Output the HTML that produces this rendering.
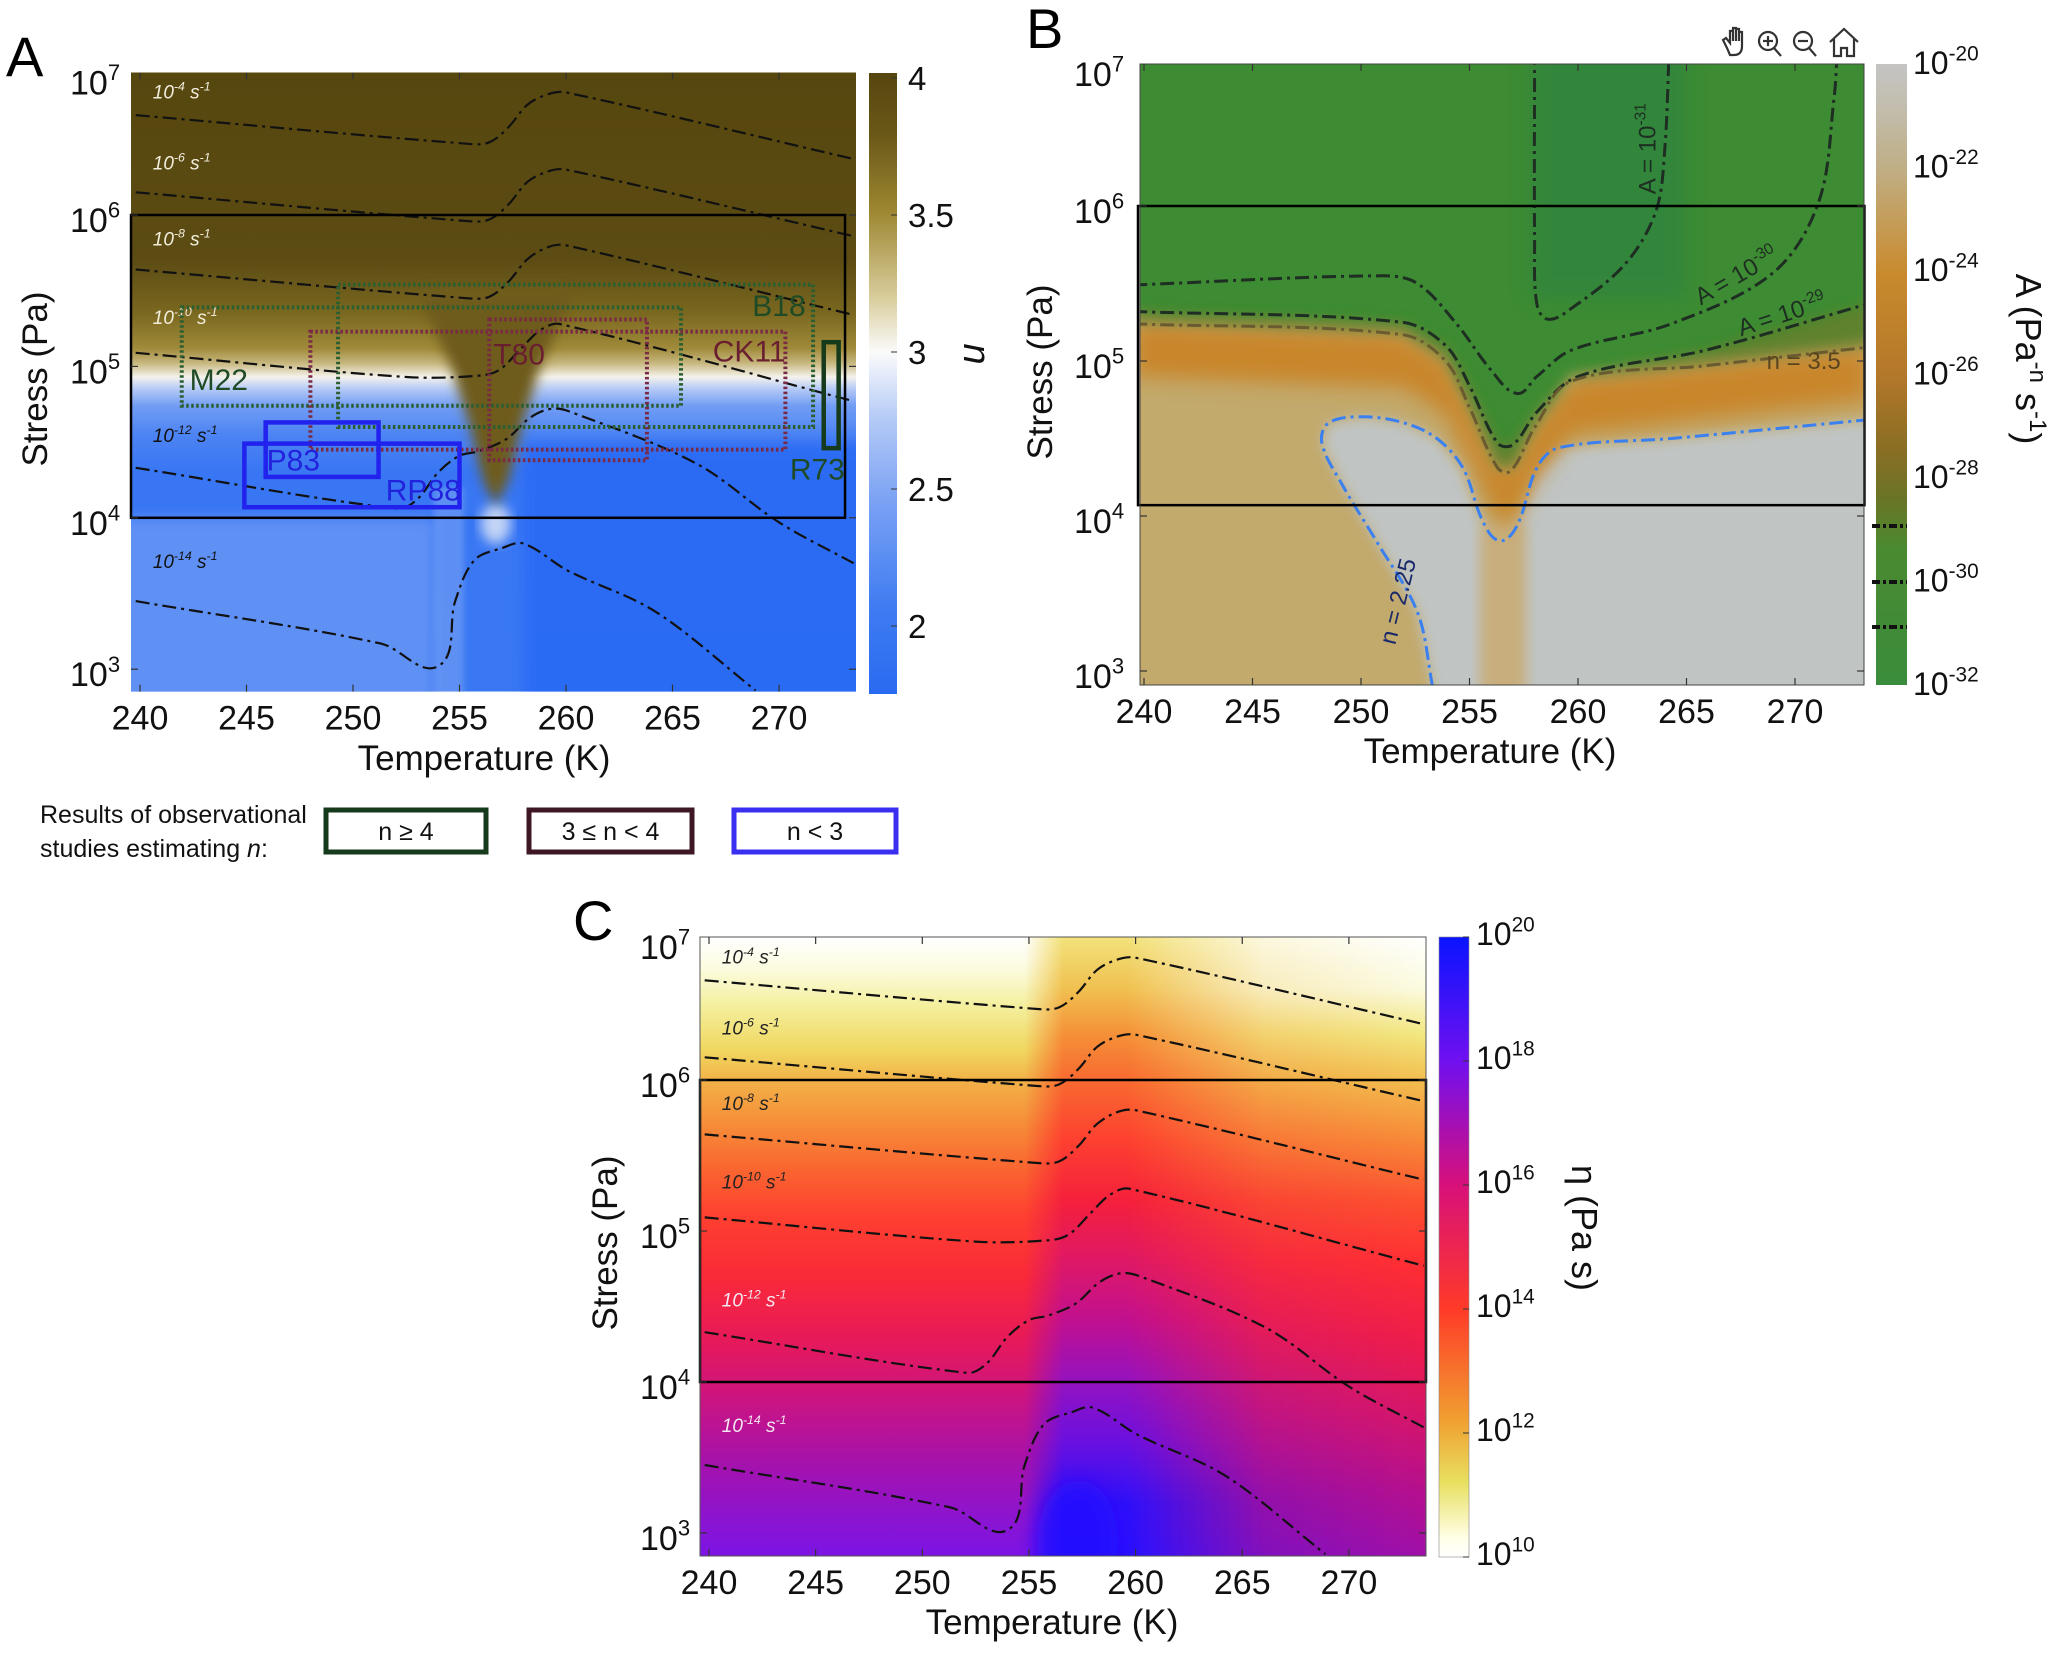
<!DOCTYPE html>
<html><head><meta charset="utf-8"><style>
html,body{margin:0;padding:0;background:#fff;}
svg{display:block;font-family:"Liberation Sans Narrow","Liberation Sans",sans-serif;}
</style></head><body>
<svg id="fig" xmlns="http://www.w3.org/2000/svg" width="2048" height="1655" viewBox="0 0 2048 1655">
<defs id="defs">
<filter id="b3" x="-20%" y="-20%" width="140%" height="140%"><feGaussianBlur stdDeviation="3"/></filter>
<filter id="b6" x="-20%" y="-20%" width="140%" height="140%"><feGaussianBlur stdDeviation="6"/></filter>
<filter id="b10" x="-30%" y="-30%" width="160%" height="160%"><feGaussianBlur stdDeviation="10"/></filter>
</defs>
</svg>
<script>
// ---------- data ----------
const rateLabels=['-4','-6','-8','-10','-12','-14'];
const r4T=[239.8,255.4,256.4,257.3,258.2,259.2,260.0,273.5];
const r4S=[6.66,6.47,6.48,6.58,6.73,6.80,6.81,6.37];
const r6T=[239.8,255.4,256.4,257.3,258.2,259.2,260.0,273.5];
const r6S=[6.15,5.96,5.97,6.07,6.22,6.29,6.30,5.86];
const r8T=[239.8,255.4,256.4,257.3,258.2,259.2,260.0,273.5];
const r8S=[5.64,5.45,5.46,5.56,5.71,5.79,5.80,5.34];
const r10T=[239.8,252.5,256.0,256.9,257.9,258.8,259.7,273.5];
const r10S=[5.09,4.93,4.94,4.98,5.12,5.24,5.28,4.77];
const r12T=[239.8,252.1,253.0,254.0,255.0,255.9,257.2,258.3,259.3,260.2,266.1,270.0,273.5];
const r12S=[4.33,4.06,4.12,4.30,4.41,4.44,4.52,4.66,4.72,4.70,4.36,3.97,3.70];
const r14T=[239.8,251.3,254.0,254.8,255.7,257.0,258.0,260.1,264.2,268.9];
const r14S=[3.45,3.17,3.02,3.45,3.72,3.80,3.83,3.65,3.38,2.86];
const rateLabelS=[6.77,6.30,5.80,5.28,4.50,3.67];

const obsNames=['M22','B18','T80','CK11','R73','P83','RP88'];
const obsT0=[241.96,249.3,256.4,248.0,272.1,245.9,244.9];
const obsT1=[265.4,271.6,263.8,270.3,272.8,251.2,255.0];
const obsS0=[4.74,4.60,4.38,4.45,4.46,4.27,4.07];
const obsS1=[5.39,5.54,5.31,5.23,5.16,4.63,4.49];
const obsKind=['g','g','m','m','G','b','b'];
const obsLabT=[243.7,270.0,257.8,268.6,271.8,247.2,253.3];
const obsLabS=[4.91,5.40,5.08,5.10,4.32,4.38,4.18];

const c31T=[258.0,258.0,258.1,258.6,259.7,262.2,263.6,264.0,264.2];
const c31S=[7.0,5.8,5.37,5.27,5.34,5.63,5.97,6.37,7.0];
const c30T=[239.5,251,252.6,254.4,256.0,257.2,258.1,259.7,264.3,269,271.1,271.8,271.95];
const c30S=[5.49,5.55,5.50,5.24,4.94,4.79,4.90,5.07,5.24,5.57,6.03,6.70,7.0];
const c29T=[239.5,251.9,253.9,255,256.3,257,258.1,260,265.9,273.4];
const c29S=[5.32,5.25,5.10,4.84,4.47,4.46,4.67,4.90,5.07,5.37];
const n35T=[239.5,251.9,253.9,255,256.3,256.9,258,259.7,265.9,273.4];
const n35S=[5.24,5.17,5.00,4.70,4.31,4.29,4.57,4.87,4.97,5.09];
const n225T=[253.3,252.6,250.7,249.1,248.2,248.5,250.1,252,253.5,254.7,255.6,256.4,257.2,258.1,259.1,264.3,273.3];
const n225S=[2.9,3.38,3.84,4.21,4.47,4.60,4.64,4.60,4.50,4.31,3.97,3.84,3.94,4.31,4.44,4.50,4.62];

const xTicks=[240,245,250,255,260,265,270];
const yTicks=[7,6,5,4,3];
const cbATicks=[4,3.5,3,2.5,2];
const cbBTicks=[-20,-22,-24,-26,-28,-30,-32];
const cbCTicks=[20,18,16,14,12,10];

// ---------- helpers ----------
const NS='http://www.w3.org/2000/svg';
const svg=document.getElementById('fig');
const defs=document.getElementById('defs');
function el(tag,attrs,parent){const e=document.createElementNS(NS,tag);for(const k in attrs)e.setAttribute(k,attrs[k]);(parent||svg).appendChild(e);return e;}
const PA={x0:140,t0:240,kx:21.3,y6:215,dy:151.4,left:131,right:856,top:72.5,bottom:691.6};
const PB={x0:1144,t0:240,kx:21.7,y6:206,dy:155,left:1140,right:1864,top:64,bottom:685};
const PC={x0:709,t0:240,kx:21.33,y6:1080,dy:151,left:700,right:1426,top:937,bottom:1556};
function X(p,T){return p.x0+(T-p.t0)*p.kx;}
function Y(p,l){return p.y6+(6-l)*p.dy;}
function pts(p,Ts,Ss){return Ts.map((t,i)=>[X(p,t),Y(p,Ss[i])]);}
function dist(a,b){return Math.hypot(b[0]-a[0],b[1]-a[1]);}
function tang(P,i){const a=P[i-1]||P[i],b=P[i+1]||P[i];const d=dist(a,b)||1;return [(b[0]-a[0])/d,(b[1]-a[1])/d];}
function smooth(P){let d='M'+P[0][0].toFixed(1)+','+P[0][1].toFixed(1);
 for(let i=0;i<P.length-1;i++){const p1=P[i],p2=P[i+1],L=dist(p1,p2)/3,t1=tang(P,i),t2=tang(P,i+1);
  const c1=[p1[0]+t1[0]*L,p1[1]+t1[1]*L],c2=[p2[0]-t2[0]*L,p2[1]-t2[1]*L];
  d+=' C'+c1[0].toFixed(1)+','+c1[1].toFixed(1)+' '+c2[0].toFixed(1)+','+c2[1].toFixed(1)+' '+p2[0].toFixed(1)+','+p2[1].toFixed(1);}
 return d;}
function poly(P){return 'M'+P.map(q=>q[0].toFixed(1)+','+q[1].toFixed(1)).join(' L')+' Z';}
function vgrad(id,p,stops){const g=el('linearGradient',{id:id,gradientUnits:'userSpaceOnUse',x1:0,y1:p.top,x2:0,y2:p.bottom},defs);
 stops.forEach(s=>{let o=(Y(p,s[0])-p.top)/(p.bottom-p.top);o=Math.max(0,Math.min(1,o));el('stop',{offset:o.toFixed(4),'stop-color':s[1]},g);});}
function hmask(id,p,stops){const g=el('linearGradient',{id:id+'g',gradientUnits:'userSpaceOnUse',x1:p.left,y1:0,x2:p.right,y2:0},defs);
 stops.forEach(s=>{let o=(X(p,s[0])-p.left)/(p.right-p.left);o=Math.max(0,Math.min(1,o));el('stop',{offset:o.toFixed(4),'stop-color':'#fff','stop-opacity':s[1]},g);});
 const m=el('mask',{id:id,maskUnits:'userSpaceOnUse',x:0,y:0,width:2048,height:1655},defs);
 el('rect',{x:p.left,y:p.top,width:p.right-p.left,height:p.bottom-p.top,fill:'url(#'+id+'g)'},m);}
function clip(id,p){const c=el('clipPath',{id:id},defs);el('rect',{x:p.left,y:p.top,width:p.right-p.left,height:p.bottom-p.top},c);}
function cbgrad(id,y1,y2,stops){const g=el('linearGradient',{id:id,gradientUnits:'userSpaceOnUse',x1:0,y1:y1,x2:0,y2:y2},defs);
 stops.forEach(s=>el('stop',{offset:s[0],'stop-color':s[1]},g));}
function supLabel(parent,x,y,base,sup,size,anchor,fill,rest,restSup,italic){
 const t=el('text',{x:x,y:y,'font-size':size,'text-anchor':anchor||'start',fill:fill||'#000'},parent);
 if(italic)t.setAttribute('font-style','italic');
 t.appendChild(document.createTextNode(base));
 const s=el('tspan',{dy:-size*0.42,'font-size':size*0.65},t);s.textContent=sup;
 if(rest){const r=el('tspan',{dy:size*0.42},t);r.textContent=rest;
  if(restSup){const s2=el('tspan',{dy:-size*0.42,'font-size':size*0.65},t);s2.textContent=restSup;}}
 return t;}
const DASH='14 5 3 5';
clip('clipA',PA);clip('clipB',PB);clip('clipC',PC);

// ================= PANEL A =================
vgrad('gA',PA,[[6.94,'#56470f'],[5.7,'#5c4c14'],[5.35,'#7a6820'],[5.12,'#a08a3a'],[5.02,'#c8b880'],[4.93,'#f4f2ec'],[4.85,'#b4c9f6'],[4.74,'#729df4'],[4.55,'#4d84f3'],[4.3,'#3876f3'],[3.0,'#3a78f3']]);
const gAp=el('g',{'clip-path':'url(#clipA)'});


el('rect',{x:PA.left,y:PA.top,width:PA.right-PA.left,height:PA.bottom-PA.top,fill:'url(#gA)'},gAp);
el('path',{d:poly(pts(PA,[238,253.8,253.8,238],[4.0,4.0,2.5,2.5])),fill:'#5e90f4',filter:'url(#b6)'},gAp);
el('path',{d:poly(pts(PA,[253.8,255.2,255.2,253.8],[4.2,4.2,2.5,2.5])),fill:'#82a8f4',opacity:0.5,filter:'url(#b3)'},gAp);
el('path',{d:poly(pts(PA,[258,275,275,258],[4.5,4.5,2.5,2.5])),fill:'#2a6af4',opacity:0.9,filter:'url(#b6)'},gAp);
el('ellipse',{cx:X(PA,256.7),cy:Y(PA,3.96),rx:15,ry:20,fill:'#e6ecf6',opacity:0.8,filter:'url(#b6)'},gAp);
const wedge=el('path',{d:poly(pts(PA,[253.0,254.6,255.5,256.1,256.7,257.3,257.9,258.8,260.4],[5.5,5.0,4.6,4.25,4.08,4.25,4.6,5.0,5.5])),fill:'#6e5c1a',filter:'url(#b6)'},gAp);


// contours A
const rateTs=[r4T,r6T,r8T,r10T,r12T,r14T], rateSs=[r4S,r6S,r8S,r10S,r12S,r14S];
function rateLines(p,g,labColors,lx){
 rateTs.forEach((Ts,i)=>{const ln=el('path',{d:smooth(pts(p,Ts,rateSs[i])),fill:'none',stroke:'#111','stroke-width':2.2,'stroke-dasharray':DASH},g);
  
  
  const lb=supLabel(g,X(p,lx),Y(p,rateLabelS[i]),'10',rateLabels[i],19,'start',labColors[i],' s','-1',true);
  
  });}
rateLines(PA,gAp,['#f2eedc','#f2eedc','#f2eedc','#f2eedc','#111','#111'],240.6);
// observation boxes
const obsStroke={g:'#2b5e30',m:'#7a2a44',G:'#163a1c',b:'#2222ee'};
const obsText={g:'#1f4a26',m:'#6a1f30',G:'#1f4a26',b:'#2222dd'};
obsNames.forEach((n,i)=>{const k=obsKind[i];
 const r=el('rect',{x:X(PA,obsT0[i]),y:Y(PA,obsS1[i]),width:X(PA,obsT1[i])-X(PA,obsT0[i]),height:Y(PA,obsS0[i])-Y(PA,obsS1[i]),fill:'none',stroke:obsStroke[k],'stroke-width':(k==='g'||k==='m')?4:4.5,'stroke-dasharray':(k==='g'||k==='m')?'2.5 2.5':'none'});
 
 
 const t=el('text',{x:X(PA,obsLabT[i]),y:Y(PA,obsLabS[i])+10,'font-size':30,'text-anchor':'middle',fill:obsText[k]});t.textContent=n;
 
 });
const rA=el('rect',{x:PA.left,y:Y(PA,6),width:X(PA,273.1)-PA.left,height:Y(PA,4)-Y(PA,6),fill:'none',stroke:'#000','stroke-width':2.5});



// ================= PANEL B =================
const gBp=el('g',{'clip-path':'url(#clipB)'});


el('rect',{x:PB.left,y:PB.top,width:PB.right-PB.left,height:PB.bottom-PB.top,fill:'#c2a96c'},gBp);
const greyPts=pts(PB,n225T,n225S).concat(pts(PB,[274.5,274.5,253.3],[4.62,2.5,2.5]));
el('path',{d:poly(greyPts),fill:'#c0c4c2',filter:'url(#b6)'},gBp);
el('path',{d:poly(pts(PB,[255.5,257.6,257.6,255.5],[3.95,3.95,2.5,2.5])),fill:'#c8ae7c',filter:'url(#b6)'},gBp);
const bandTop=pts(PB,n35T,n35S), bandBot=pts(PB,n35T,n35S.map(s=>s-0.34)).reverse();
el('path',{d:poly(bandTop.concat(bandBot)),fill:'#c9862c',filter:'url(#b10)'},gBp);
const greenPts=pts(PB,[274.5,238],[7.2,7.2]).concat(pts(PB,n35T,n35S.map(s=>s+0.04)));
el('path',{d:poly(greenPts),fill:'#3c8b32',filter:'url(#b6)'},gBp);
el('path',{d:poly(pts(PB,n35T,n35S).concat(pts(PB,c29T,c29S).reverse())),fill:'#7a7a2c',opacity:0.55,filter:'url(#b6)'},gBp);
el('path',{d:poly(pts(PB,[257.8,265,265,257.8],[7.2,7.2,5.4,5.4])),fill:'#2c8245',opacity:0.55,filter:'url(#b10)'},gBp);
function bLine(Ts,Ss,color,name){const l=el('path',{d:smooth(pts(PB,Ts,Ss)),fill:'none',stroke:color,'stroke-width':3,'stroke-dasharray':DASH},gBp);
 
 }
bLine(c31T,c31S,'#1e2e22','contour-a-1e-31');
bLine(c30T,c30S,'#1e2e22','contour-a-1e-30');
bLine(c29T,c29S,'#1e2e22','contour-a-1e-29');
bLine(n35T,n35S,'#6a5a30','contour-n-3-5');
bLine(n225T,n225S,'#3a80f0','contour-n-2-25');
function rotLabel(T,S,ang,base,sup,color,name){const g=el('g',{transform:'translate('+X(PB,T)+','+Y(PB,S)+') rotate('+ang+')'},gBp);
 const t=supLabel(g,0,8,base,sup,24,'middle',color);
 
 }
rotLabel(263.2,6.37,-90,'A = 10','-31','#1e2e22','label-a-1e-31');
rotLabel(267.3,5.55,-30,'A = 10','-30','#1e2e22','label-a-1e-30');
rotLabel(269.4,5.30,-18,'A = 10','-29','#1e2e22','label-a-1e-29');
rotLabel(270.4,5.0,0,'n = 3.5','','#5a4520','label-n-3-5');
rotLabel(251.7,3.45,-76,'n = 2.25','','#1a2a6a','label-n-2-25');
const rB=el('rect',{x:PB.left-2,y:Y(PB,6),width:X(PB,273.2)-PB.left+2,height:Y(PB,4.07)-Y(PB,6),fill:'none',stroke:'#000','stroke-width':2.5});


el('rect',{x:PB.left,y:PB.top,width:PB.right-PB.left,height:PB.bottom-PB.top,fill:'none',stroke:'#444','stroke-width':1});

// ================= PANEL C =================
vgrad('gC1',PC,[[6.94,'#ffffff'],[6.75,'#fcfce2'],[6.5,'#f4f0a0'],[6.2,'#f0d860'],[6.0,'#f2b248'],[5.7,'#f68c38'],[5.4,'#fa6430'],[5.1,'#fe4030'],[4.7,'#fa2a38'],[4.3,'#e81a58'],[3.9,'#cc1480'],[3.5,'#a812a8'],[3.1,'#8c14d0'],[2.85,'#7c14e4']]);
vgrad('gC2',PC,[[6.94,'#f2e27a'],[6.6,'#f0c050'],[6.3,'#f59038'],[6.0,'#f86a30'],[5.6,'#fd4030'],[5.2,'#f5203c'],[4.8,'#de1866'],[4.4,'#c01090'],[4.0,'#9412c0'],[3.6,'#6a10e0'],[3.2,'#3010f8'],[2.85,'#2a10ff']]);
vgrad('gC3',PC,[[6.94,'#ffffff'],[6.6,'#fbfbe0'],[6.3,'#f2e880'],[6.0,'#f2c050'],[5.6,'#f78a38'],[5.2,'#fc5230'],[4.8,'#ff3032'],[4.3,'#f01e48'],[3.8,'#d81668'],[3.3,'#b8108c'],[2.85,'#a010a8']]);
hmask('mC3',PC,[[258,0],[262,1],[274,1]]);
hmask('mC2',PC,[[254.8,0],[256.6,1],[259.6,1],[266,0.25],[274,0]]);
const gCp=el('g',{'clip-path':'url(#clipC)'});


el('rect',{x:PC.left,y:PC.top,width:PC.right-PC.left,height:PC.bottom-PC.top,fill:'url(#gC1)'},gCp);
el('rect',{x:PC.left,y:PC.top,width:PC.right-PC.left,height:PC.bottom-PC.top,fill:'url(#gC3)',mask:'url(#mC3)'},gCp);
el('rect',{x:PC.left,y:PC.top,width:PC.right-PC.left,height:PC.bottom-PC.top,fill:'url(#gC2)',mask:'url(#mC2)'},gCp);
el('ellipse',{cx:X(PC,257.3),cy:Y(PC,2.95),rx:40,ry:60,fill:'#2010ff',opacity:0.8,filter:'url(#b10)'},gCp);
rateLines(PC,gCp,['#222','#222','#222','#222','#f4e8f0','#f4e8f0'],240.6);
const rC=el('rect',{x:PC.left,y:Y(PC,6),width:PC.right-PC.left,height:Y(PC,4)-Y(PC,6),fill:'none',stroke:'#000','stroke-width':2.5});


el('rect',{x:PC.left,y:PC.top,width:PC.right-PC.left,height:PC.bottom-PC.top,fill:'none',stroke:'#555','stroke-width':1});

// ================= AXES =================
function axes(p,tag,ylabX,labX,labY,stX,stY){
 xTicks.forEach(t=>{const x=X(p,t);
  el('line',{x1:x,y1:p.bottom,x2:x,y2:p.bottom-7,stroke:'#333','stroke-width':1.2});
  el('line',{x1:x,y1:p.top,x2:x,y2:p.top+7,stroke:'#333','stroke-width':1.2});
  const tl=el('text',{x:x,y:p.bottom+38,'font-size':34,'text-anchor':'middle',fill:'#111'});tl.textContent=t;
  
  });
 yTicks.forEach(l=>{let y=Y(p,l);
  if(y>=p.top-1&&y<=p.bottom){el('line',{x1:p.left,y1:y,x2:p.left+7,y2:y,stroke:'#333','stroke-width':1.2});
   el('line',{x1:p.right,y1:y,x2:p.right-7,y2:y,stroke:'#333','stroke-width':1.2});}
  let ly=(l===7)?p.top+22:y+17;
  const tl=supLabel(svg,ylabX,ly,'10',String(l),34,'start','#111');
  
  });
 const xt=el('text',{x:labX,y:labY,'font-size':35,'text-anchor':'middle',fill:'#111'});xt.textContent='Temperature (K)';
 
 
 const yt=el('text',{x:0,y:0,'font-size':35,'text-anchor':'middle',fill:'#111',transform:'translate('+stX+','+stY+') rotate(-90)'});yt.textContent='Stress (Pa)';
 
 }
axes(PA,'a',70,484,770,47,379);
axes(PB,'b',1074,1490,763,1052,372);
axes(PC,'c',640,1052,1634,617,1243);

// ================= COLORBARS =================
cbgrad('cbA',73,694,[[0,'#56460e'],[0.1,'#6a5818'],[0.22,'#9c8630'],[0.36,'#d8cc9a'],[0.45,'#fbfbfb'],[0.55,'#b8cdf6'],[0.68,'#7ea4f4'],[0.86,'#3f7cf2'],[1,'#2a6af0']]);
const cA=el('rect',{x:869,y:73,width:28,height:621,fill:'url(#cbA)'});


const cbAy=v=>78+(4-v)*274;
cbATicks.forEach(v=>{el('line',{x1:891,y1:cbAy(v),x2:897,y2:cbAy(v),stroke:'#333'});
 const t=el('text',{x:908,y:cbAy(v)+12,'font-size':33,fill:'#111'});t.textContent=v;
 
 });
const nT=el('text',{x:0,y:0,'font-size':38,'font-style':'italic','text-anchor':'middle',fill:'#111',transform:'translate(964,354) rotate(90)'});nT.textContent='n';


cbgrad('cbB',64,685,[[0,'#c4c4c4'],[0.08,'#c2bcaa'],[0.17,'#c0ae84'],[0.34,'#c98a2c'],[0.5,'#b4782a'],[0.62,'#8a6e24'],[0.7,'#6a7426'],[0.78,'#4a8a30'],[1,'#3a8c3c']]);
const cB=el('rect',{x:1876,y:64,width:31,height:621,fill:'url(#cbB)'});


const cbBy=v=>64+(-20-v)*51.75;
cbBTicks.forEach(v=>{const t=supLabel(svg,1913,cbBy(v)+10,'10',String(v),32,'start','#111');
 
 });
[526,582,627].forEach(y=>{el('line',{x1:1872,y1:y,x2:1907,y2:y,stroke:'#111','stroke-width':4,'stroke-dasharray':'8 3 3 3'});});
const bT=el('text',{x:0,y:0,'font-size':36,'text-anchor':'middle',fill:'#111',transform:'translate(2016,359) rotate(90)'});
bT.appendChild(document.createTextNode('A (Pa'));
const bs1=el('tspan',{dy:-14,'font-size':24},bT);bs1.textContent='-n';
const bs2=el('tspan',{dy:14},bT);bs2.textContent=' s';
const bs3=el('tspan',{dy:-14,'font-size':24},bT);bs3.textContent='-1';
const bs4=el('tspan',{dy:14},bT);bs4.textContent=')';


cbgrad('cbC',937,1557,[[0,'#0a14ff'],[0.2,'#7010f0'],[0.4,'#d8107a'],[0.6,'#ff3a28'],[0.78,'#f0a030'],[0.88,'#e8e060'],[0.97,'#ffffe8'],[1,'#ffffff']]);
const cC=el('rect',{x:1439,y:937,width:30,height:620,fill:'url(#cbC)',stroke:'#888','stroke-width':0.6});


const cbCy=v=>937+(20-v)*62;
cbCTicks.forEach(v=>{el('line',{x1:1463,y1:cbCy(v),x2:1469,y2:cbCy(v),stroke:'#333'});
 const t=supLabel(svg,1476,cbCy(v)+8,'10',String(v),32,'start','#111');
 
 });
const cT=el('text',{x:0,y:0,'font-size':36,'text-anchor':'middle',fill:'#111',transform:'translate(1572,1228) rotate(90)'});cT.textContent='η (Pa s)';



// ================= PANEL LETTERS =================
[['A',6,76],['B',1026,48],['C',573,940]].forEach(a=>{const t=el('text',{x:a[1],y:a[2],'font-size':56,fill:'#000'});t.textContent=a[0];
 
 });

// ================= LEGEND =================
const l1=el('text',{x:40,y:823,'font-size':25,fill:'#111'});l1.textContent='Results of observational';


const l2=el('text',{x:40,y:857,'font-size':25,fill:'#111'});l2.appendChild(document.createTextNode('studies estimating '));
const li=el('tspan',{'font-style':'italic'},l2);li.textContent='n';l2.appendChild(document.createTextNode(':'));


[[326,486,'#163a1c','n ≥ 4'],[529,692,'#3e1624','3 ≤ n < 4'],[734,896,'#3a2ef0','n < 3']].forEach((b,i)=>{
 const r=el('rect',{x:b[0],y:810,width:b[1]-b[0],height:42,fill:'#fff',stroke:b[2],'stroke-width':5});
 
 
 const t=el('text',{x:(b[0]+b[1])/2,y:840,'font-size':25,'text-anchor':'middle',fill:'#111'});t.textContent=b[3];
 
 });

// ================= TOOLBAR =================
const tb=el('g',{stroke:'#333','stroke-width':2.2,fill:'none'});


const hand=el('path',{d:'M1727,48 l-4,-8 l3,-2 l4,5 v-12 h3 v10 v-13 h3 v13 v-12 h3 v12 v-9 h3 v14 q0,9 -8,9 h-4 z'},tb);


[[1768,'+','zoom-in-button'],[1803,'-','zoom-out-button']].forEach(z=>{const g=el('g',{},tb);
 
 
 el('circle',{cx:z[0],cy:41,r:9},g);el('line',{x1:z[0]+6,y1:48,x2:z[0]+13,y2:56},g);
 el('line',{x1:z[0]-5,y1:41,x2:z[0]+5,y2:41},g);if(z[1]==='+')el('line',{x1:z[0],y1:36,x2:z[0],y2:46},g);});
const home=el('path',{d:'M1830,42 l14,-13 l14,13 M1834,39 v17 h7 v-8 h6 v8 h7 v-17'},tb);


</script>
</body></html>
